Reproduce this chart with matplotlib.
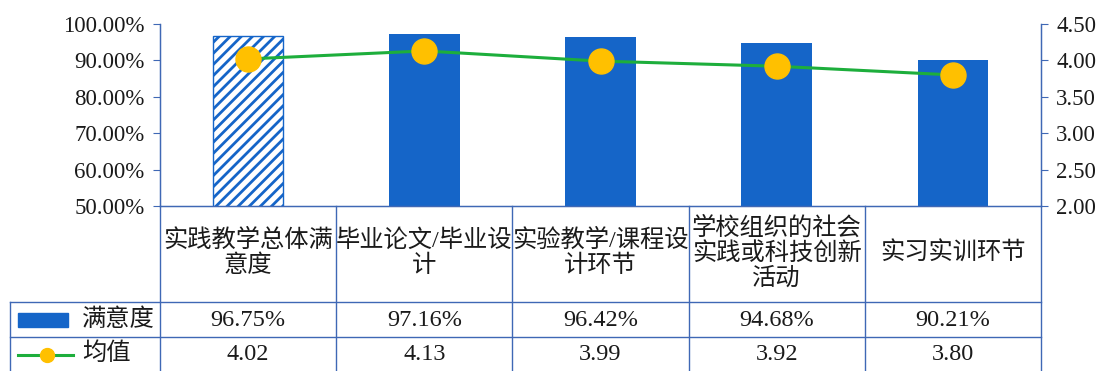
import matplotlib
matplotlib.use('Agg')
import matplotlib.pyplot as plt
from matplotlib.ticker import PercentFormatter, FormatStrFormatter
from matplotlib.lines import Line2D
from matplotlib.patches import Rectangle
import matplotlib.transforms as mtransforms
import numpy as np

plt.rcParams['font.family'] = ['Liberation Serif', 'Noto Sans CJK SC']
plt.rcParams['hatch.linewidth'] = 2.0

#Data
categories = ['实践教学总体满\n意度', '毕业论文/毕业设\n计', '实验教学/课程设\n计环节',
              '学校组织的社会\n实践或科技创新\n活动', '实习实训环节']
satisfaction = [96.75, 97.16, 96.42, 94.68, 90.21]
mean_score = [4.02, 4.13, 3.99, 3.92, 3.80]
row_labels = ['满意度', '均值']

#Style
BAR_COLOR = '#1565C8'
LINE_COLOR = '#1DAE3C'
MARKER_COLOR = '#FFC000'
GRID_COLOR = '#3F68B5'
TEXT_COLOR = '#1a1a1a'
FS = 17.5

W, H = 1104, 371
def fx(px): return px / W
def fy(py): return 1 - py / H

fig = plt.figure(figsize=(W / 100, H / 100), dpi=100)
ax = fig.add_axes([fx(160), fy(206), fx(1041) - fx(160), fy(24) - fy(206)])

x = np.arange(len(categories))
bars = ax.bar(x, satisfaction, width=0.40, color=BAR_COLOR, zorder=2)
bars[0].set_facecolor('white')
bars[0].set_edgecolor(BAR_COLOR)
bars[0].set_hatch('///')
bars[0].set_linewidth(1.0)

ax.set_xlim(-0.5, len(categories) - 0.5)
ax.set_ylim(50, 100)
ax.set_yticks(np.arange(50, 101, 10))
ax.yaxis.set_major_formatter(PercentFormatter(decimals=2))
ax.set_xticks([])
ax.spines['top'].set_visible(False)
for s in ['left', 'right', 'bottom']:
    ax.spines[s].set_color(GRID_COLOR)
    ax.spines[s].set_linewidth(1.0)
ax.tick_params(axis='y', labelsize=16.5, colors=GRID_COLOR, labelcolor=TEXT_COLOR, length=5, pad=6)

ax2 = ax.twinx()
ax2.plot(x, mean_score, color=LINE_COLOR, lw=2.2, marker='o', ms=18,
         mfc=MARKER_COLOR, mec=MARKER_COLOR, zorder=3)
ax2.set_ylim(2.0, 4.5)
ax2.set_yticks(np.arange(2.0, 4.51, 0.5))
ax2.yaxis.set_major_formatter(FormatStrFormatter('%.2f'))
ax2.spines['top'].set_visible(False)
for s in ['left', 'right', 'bottom']:
    ax2.spines[s].set_color(GRID_COLOR)
ax2.tick_params(axis='y', labelsize=16.5, colors=GRID_COLOR, labelcolor=TEXT_COLOR, length=5, pad=6)

#Data table under the axes
trans = mtransforms.blended_transform_factory(ax.transData, fig.transFigure)
line_kw = dict(color=GRID_COLOR, lw=1.0, transform=fig.transFigure)

for b in np.arange(len(categories) + 1) - 0.5:
    xb = fig.transFigure.inverted().transform(ax.transData.transform((b, 50)))[0]
    fig.add_artist(Line2D([xb, xb], [fy(206), 0], **line_kw))
fig.add_artist(Line2D([fx(10), fx(10)], [fy(302), 0], **line_kw))
for yy in [302, 337]:
    fig.add_artist(Line2D([fx(10), fx(1041)], [fy(yy), fy(yy)], **line_kw))

for i, cat in enumerate(categories):
    fig.text(i, fy(253), cat, transform=trans, ha='center', va='center',
             fontsize=FS, color=TEXT_COLOR, linespacing=1.15)
    fig.text(i, fy(320), '%.2f%%' % satisfaction[i], transform=trans, ha='center',
             va='center', fontsize=FS, color=TEXT_COLOR)
    fig.text(i, fy(354), '%.2f' % mean_score[i], transform=trans, ha='center',
             va='center', fontsize=FS, color=TEXT_COLOR)

#Legend keys inside table
fig.add_artist(Rectangle((fx(18), fy(327)), fx(68) - fx(18), fy(313) - fy(327),
                         color=BAR_COLOR, transform=fig.transFigure))
fig.add_artist(Line2D([fx(18), fx(73)], [fy(355), fy(355)], color=LINE_COLOR, lw=2.2,
                      transform=fig.transFigure))
fig.add_artist(Line2D([fx(47)], [fy(355)], marker='o', ms=10, mfc=MARKER_COLOR,
                      mec=MARKER_COLOR, transform=fig.transFigure))
fig.text(fx(82), fy(320), row_labels[0], ha='left', va='center', fontsize=FS, color=TEXT_COLOR)
fig.text(fx(82), fy(354), row_labels[1], ha='left', va='center', fontsize=FS, color=TEXT_COLOR)

fig.savefig('out.png', dpi=100)
